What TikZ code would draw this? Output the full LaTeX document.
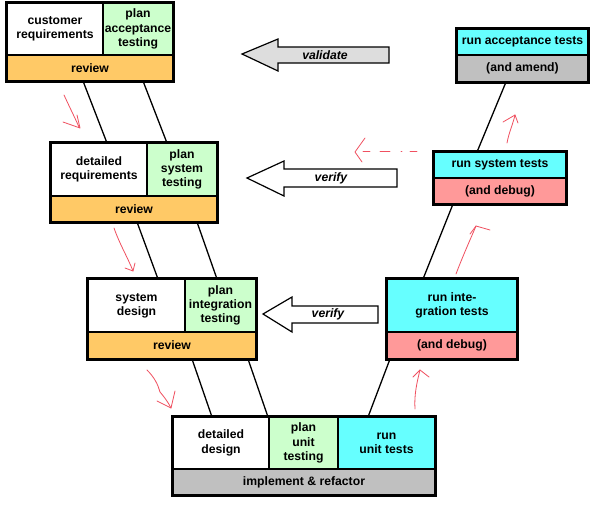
\documentclass[tikz,border=0pt]{standalone}
\usepackage{fontspec}
\setmainfont{Liberation Sans}
\definecolor{plangreen}{HTML}{CCFFCC}
\definecolor{revorange}{HTML}{FFC966}
\definecolor{runcyan}{HTML}{66FFFF}
\definecolor{debugpink}{HTML}{FF9999}
\definecolor{boxgray}{HTML}{C0C0C0}
\definecolor{arrowgray}{HTML}{DDDDDD}
\definecolor{handred}{HTML}{F05060}
\newcommand\cellbox[7]{%
  \node[cellst, fill=#6, minimum width={(#4-#2)*1pt}, minimum height={(#5-#3)*1pt}]
    (#1) at ({(#2+#4)/2},{(#3+#5)/2}) {#7};}
\begin{document}
\begin{tikzpicture}[x=1pt,y=-1pt,
  font=\fontsize{12.2}{14.3}\selectfont\bfseries,
  cellst/.style={draw=black, line width=1.2pt, inner sep=0pt, align=center},
  frame/.style={draw=black, line width=2.6pt},
  link/.style={draw=black, line width=1.3pt},
  bigarrow/.style={draw=black, line width=1.2pt, line join=miter},
  arrowtext/.style={font=\fontsize{12.2}{14.3}\selectfont\bfseries\itshape, inner sep=0pt},
  hand/.style={draw=handred, line width=0.8pt, line cap=round, line join=round}]
\useasboundingbox (0,0) rectangle (600,504);
\fill[white] (0,0) rectangle (600,504);

% ---- links (drawn first, under boxes)
\coordinate (a1) at (83,81);  \coordinate (a2) at (107,143);
\coordinate (b1) at (143,81); \coordinate (b2) at (167,143);
\coordinate (c1) at (137,222);\coordinate (c2) at (158,279);
\coordinate (d1) at (197,222);\coordinate (d2) at (217,279);
\coordinate (e1) at (192,359);\coordinate (e2) at (212,417);
\coordinate (f1) at (248,359);\coordinate (f2) at (268,417);
\coordinate (g1) at (506,82); \coordinate (g2) at (477,152);
\coordinate (h1) at (453,204);\coordinate (h2) at (423,279);
\coordinate (i1) at (390,359);\coordinate (i2) at (368,417);
\foreach \p in {a,b,c,d,e,f,g,h,i} \draw[link] (\p1) -- (\p2);

% ---- box 1
\cellbox{cr}{7}{3}{103}{55}{white}{customer\\requirements}
\cellbox{pa}{103}{3}{173}{55}{plangreen}{plan\\acceptance\\testing}
\cellbox{rv1}{7}{55}{173}{81}{revorange}{review}
\draw[frame] (cr.north west) rectangle (rv1.south east);

% ---- box 2
\cellbox{dr}{51}{143}{147}{196}{white}{detailed\\requirements}
\cellbox{ps}{147}{143}{217}{196}{plangreen}{plan\\system\\testing}
\cellbox{rv2}{51}{196}{217}{222}{revorange}{review}
\draw[frame] (dr.north west) rectangle (rv2.south east);

% ---- box 3
\cellbox{sd}{88}{279}{185}{332}{white}{system\\design}
\cellbox{pi}{185}{279}{256}{332}{plangreen}{plan\\integration\\testing}
\cellbox{rv3}{88}{332}{256}{359}{revorange}{review}
\draw[frame] (sd.north west) rectangle (rv3.south east);

% ---- box 4
\cellbox{dd}{173}{417}{269}{469}{white}{detailed\\design}
\cellbox{pu}{269}{417}{338}{469}{plangreen}{plan\\unit\\testing}
\cellbox{ru}{338}{417}{435}{469}{runcyan}{run\\unit tests}
\cellbox{ir}{173}{469}{435}{495}{boxgray}{implement \& refactor}
\draw[frame] (dd.north west) rectangle (ir.south east);

% ---- right boxes
\cellbox{rat}{457}{29}{588}{55}{runcyan}{run acceptance tests}
\cellbox{am}{457}{55}{588}{82}{boxgray}{(and amend)}
\draw[frame] (rat.north west) rectangle (am.south east);

\cellbox{rst}{434}{152}{566}{178}{runcyan}{run system tests}
\cellbox{db1}{434}{178}{566}{204}{debugpink}{(and debug)}
\draw[frame] (rst.north west) rectangle (db1.south east);

\cellbox{rit}{387}{279}{517}{332}{runcyan}{run inte-\\gration tests}
\cellbox{db2}{387}{332}{517}{359}{debugpink}{(and debug)}
\draw[frame] (rit.north west) rectangle (db2.south east);

% ---- big arrows
\filldraw[bigarrow, fill=arrowgray] (242,54) -- (278,39) -- (278,47) -- (389,47)
  -- (389,63) -- (278,63) -- (278,71) -- cycle;
\node[arrowtext] (val) at (325,55.5) {validate};
\filldraw[bigarrow, fill=white] (247,178) -- (284,161) -- (284,169) -- (397,169)
  -- (397,187) -- (284,187) -- (284,196) -- cycle;
\node[arrowtext] (ver1) at (331,178.5) {verify};
\filldraw[bigarrow, fill=white] (263,314) -- (292,297) -- (292,306) -- (378,306)
  -- (378,323) -- (292,323) -- (292,332) -- cycle;
\node[arrowtext] (ver2) at (328,314.5) {verify};

% ---- hand-drawn red arrows
\draw[hand] (64,95) .. controls (70,108) and (75,118) .. (79,127);
\draw[hand] (63,122) -- (80,128) -- (77,115);
\draw[hand] (114,228) .. controls (120,245) and (128,258) .. (133,271);
\draw[hand] (125,268) -- (133,271) -- (135,263);
\draw[hand] (147,370) .. controls (155,378) and (158,385) .. (160,392)
  .. controls (165,398) and (168,402) .. (171,408);
\draw[hand] (157,401) -- (171,408) -- (175,391);
\draw[hand] (415,409) .. controls (414,395) and (417,382) .. (420,370);
\draw[hand] (413,377) -- (420,370) -- (429,377);
\draw[hand] (456,274) .. controls (462,258) and (470,240) .. (476,226);
\draw[hand] (470,234) -- (476,226) -- (490,230);
\draw[hand] (507,143) .. controls (509,132) and (513,124) .. (515,115);
\draw[hand] (503,122) -- (515,115) -- (518,123);
\draw[hand] (365,138) -- (355,152) -- (362,162);
\draw[hand, dash pattern=on 7pt off 10pt on 10pt off 11pt on 1pt off 8pt on 7pt off 30pt] (363,151) -- (418,151);
\end{tikzpicture}
\end{document}
